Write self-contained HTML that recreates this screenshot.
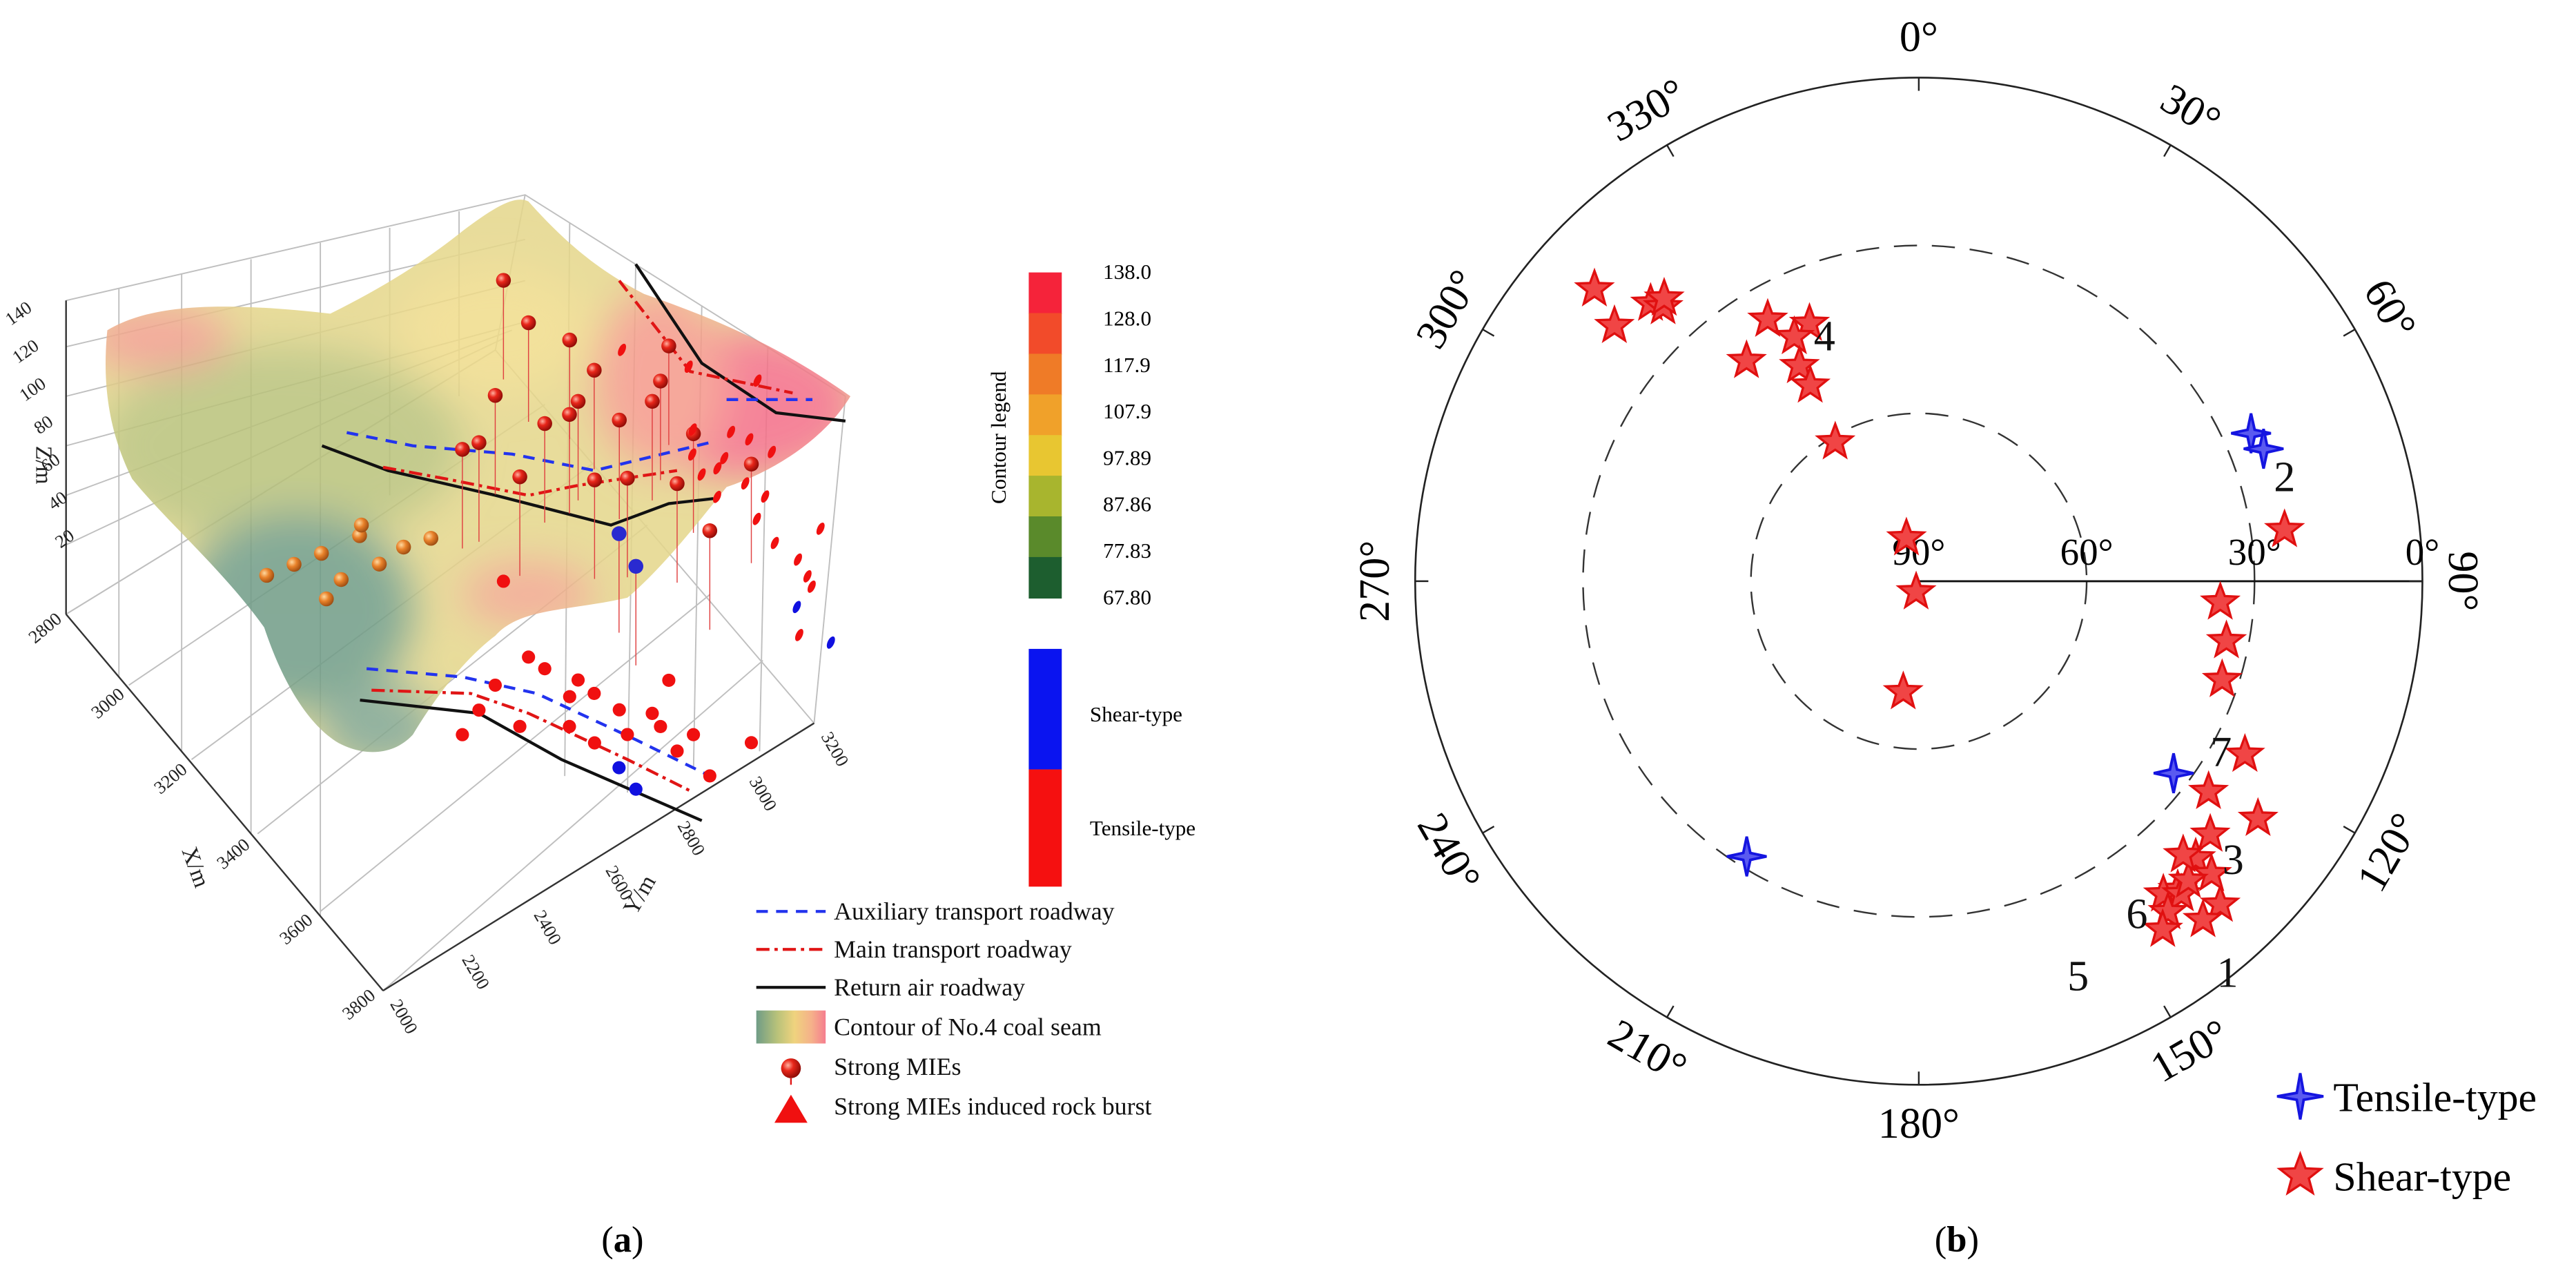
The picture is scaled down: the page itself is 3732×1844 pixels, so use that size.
<!DOCTYPE html>
<html><head><meta charset="utf-8"><style>
html,body{margin:0;padding:0;background:#fff;}
svg{display:block;}
text{font-family:"Liberation Serif",serif;}
</style></head><body>
<svg id="fig" width="3732" height="1844" viewBox="0 0 1560 771" preserveAspectRatio="none" xmlns="http://www.w3.org/2000/svg">
<defs>
<clipPath id="surfClip"><path d="M65,200 C90,185 130,182 200,190 C230,175 255,160 280,140 C300,125 312,118 320,122 C345,150 365,165 390,178 C430,192 470,208 515,240 C500,265 470,285 440,295 C420,320 400,345 380,362 C345,370 315,368 300,385 C280,400 262,425 250,445 C238,458 220,458 205,450 C185,438 170,410 160,380 C135,345 100,315 80,290 C65,260 62,230 65,200 Z"/></clipPath>
<filter id="blur" x="-50%" y="-50%" width="200%" height="200%"><feGaussianBlur stdDeviation="12"/></filter>
<linearGradient id="contGrad" x1="0" x2="1" y1="0" y2="0">
<stop offset="0" stop-color="#6f9c86"/><stop offset="0.3" stop-color="#b8c27a"/><stop offset="0.55" stop-color="#efd37e"/><stop offset="0.8" stop-color="#f5b08a"/><stop offset="1" stop-color="#f57d8e"/></linearGradient>
<radialGradient id="sph" cx="0.35" cy="0.35" r="0.7"><stop offset="0" stop-color="#ffb0a0"/><stop offset="0.4" stop-color="#e8261a"/><stop offset="1" stop-color="#8a0a05"/></radialGradient>
<radialGradient id="sphO" cx="0.35" cy="0.35" r="0.7"><stop offset="0" stop-color="#ffd9a0"/><stop offset="0.45" stop-color="#e9822a"/><stop offset="1" stop-color="#9a4a10"/></radialGradient>
</defs>

<g id="panelA">
<g id="box" stroke="#bfbfbf" stroke-width="0.8" fill="none">
<path d="M40,182 L318,118 L512,240"/>
<path d="M40,182 L40,372 L232,600 L493,438 L512,240"/>
<path d="M318,118 L300,212 M40,372 L300,212 L493,438"/>
<path d="M72,175 L72,410 M110,166 L110,455 M152,157 L152,505 M194,147 L194,555 M236,138 L236,300 M278,128 L278,240"/>
<path d="M345,135 L342,470 M385,160 L380,480 M425,185 L420,465 M465,210 L460,455"/>
<path d="M40,372 L300,212 M78,415 L330,245 M116,460 L360,280 M156,505 L392,318 M194,552 L430,360 M232,600 L462,400"/>
<path d="M40,210 L318,145 M40,240 L318,170 M40,270 L318,195 M40,300 L310,200 M40,330 L305,205"/>
</g>
<g id="boxAxes" stroke="#333" stroke-width="1" fill="none">
<path d="M40,182 L40,372"/>
<path d="M40,372 L232,600"/>
<path d="M232,600 L493,438"/>
</g>
<g id="surface" clip-path="url(#surfClip)" opacity="0.85">
<rect x="40" y="110" width="480" height="360" fill="#e4d68a"/>
<g filter="url(#blur)">
<ellipse cx="170" cy="270" rx="110" ry="60" fill="#b9c27a"/>
<ellipse cx="180" cy="370" rx="70" ry="60" fill="#6f9c86"/>
<ellipse cx="230" cy="440" rx="35" ry="25" fill="#80a590"/>
<ellipse cx="95" cy="205" rx="45" ry="20" fill="#f29c8c"/>
<ellipse cx="450" cy="245" rx="70" ry="45" fill="#f46e88"/>
<ellipse cx="400" cy="230" rx="40" ry="55" fill="#f59a8a"/>
<ellipse cx="300" cy="200" rx="60" ry="40" fill="#f0dc8a"/>
<ellipse cx="320" cy="360" rx="40" ry="20" fill="#f2a58c"/>
</g>
</g>
<g id="roadways" fill="none" stroke-width="1.8">
<polyline points="195,270 235,285 300,300 370,318 405,305 432,302" stroke="#111"/>
<polyline points="210,262 250,270 310,275 360,285 430,268" stroke="#2233ee" stroke-dasharray="7,5"/>
<polyline points="232,283 270,290 320,300 350,294 410,285" stroke="#e01515" stroke-dasharray="8,3,2,3"/>
<polyline points="218,424 290,432 340,460 425,497" stroke="#111"/>
<polyline points="222,405 280,410 325,420 385,448 430,470" stroke="#2233ee" stroke-dasharray="7,5"/>
<polyline points="225,418 285,420 320,432 380,460 420,480" stroke="#e01515" stroke-dasharray="8,3,2,3"/>
<polyline points="385,160 425,220 470,250 512,255" stroke="#111"/>
<polyline points="375,170 418,225 480,238" stroke="#e01515" stroke-dasharray="8,3,2,3"/>
<polyline points="440,242 492,242" stroke="#2233ee" stroke-dasharray="7,5"/>
</g>
<g id="events"></g>
<g id="axisLabels" font-size="11" fill="#222"></g>
</g>

<g id="colorbar"></g>
<text x="0" y="0" font-size="13" transform="translate(609,265) rotate(-90)" text-anchor="middle">Contour legend</text>
<g>
<rect x="623" y="393" width="20" height="73" fill="#0a14f0"/>
<rect x="623" y="466" width="20" height="71" fill="#f51010"/>
<text x="660" y="437" font-size="13">Shear-type</text>
<text x="660" y="506" font-size="13">Tensile-type</text>
</g>

<g id="legendA" font-size="15" fill="#111">
<g><line x1="458" y1="552" x2="500" y2="552" stroke="#2233ee" stroke-width="1.8" stroke-dasharray="7,5"/><text x="505" y="557">Auxiliary transport roadway</text></g>
<g><line x1="458" y1="575" x2="500" y2="575" stroke="#e01515" stroke-width="1.8" stroke-dasharray="8,3,2,3"/><text x="505" y="580">Main transport roadway</text></g>
<g><line x1="458" y1="598" x2="500" y2="598" stroke="#111" stroke-width="1.8"/><text x="505" y="603">Return air roadway</text></g>
<g><rect x="458" y="612" width="42" height="20" fill="url(#contGrad)"/><text x="505" y="627">Contour of No.4 coal seam</text></g>
<g><circle cx="479" cy="647" r="6" fill="url(#sph)"/><line x1="479" y1="653" x2="479" y2="657" stroke="#e01515"/><text x="505" y="651">Strong MIEs</text></g>
<g><polygon points="479,663 469,680 489,680" fill="#f01010"/><text x="505" y="675">Strong MIEs induced rock burst</text></g>
</g>
<text x="377" y="758" font-size="22" text-anchor="middle">(<tspan font-weight="bold">a</tspan>)</text>

<g id="panelB"></g>
<text x="1185" y="758" font-size="22" text-anchor="middle">(<tspan font-weight="bold">b</tspan>)</text>
</svg>

<script>
// ---------- Panel A data ----------
const evX = [3214,3374,3412,3488,3468,3509,3565,3617,3607,3639,3700,3689,3779,3766,3666,3722,3540,3387,3413,3486,3438,3567,3596];
const evY = [2847,2777,2789,2792,2833,2842,2863,2840,2918,2913,2906,2961,2928,3055,2774,2772,2746,2673,2605,2655,2537,2999,2767];
const evZ = [95,110,70,120,85,105,90,75,100,115,80,95,70,85,65,60,100,90,80,72,88,110,78];
const evType = ['t','t','t','t','t','t','t','t','t','t','t','t','t','t','s','s','t','t','t','t','t','t','t'];
const surfX = [3230,3260,3300,3290,3330,3350,3200,3380,3250,3310];
const surfY = [2250,2300,2320,2380,2400,2450,2200,2500,2420,2270];
const surfZ = [70,75,68,80,72,78,65,82,74,66];
const cbLabels = ['138.0','128.0','117.9','107.9','97.89','87.86','77.83','67.80'];
const cbColors = ['#f5233a','#f24b2a','#ef7b27','#f0a12a','#e8c631','#a8b52e','#5a8a2b','#1d5e2f'];
const xTicks = [2800,3000,3200,3400,3600,3800];
const yTicks = [2000,2200,2400,2600,2800,3000,3200];
const zTicks = [20,40,60,80,100,120,140];

const NS='http://www.w3.org/2000/svg';
function mk(tag, attrs, parent){const e=document.createElementNS(NS,tag);for(const k in attrs)e.setAttribute(k,attrs[k]);parent.appendChild(e);return e;}
function proj(X,Y,Z){const u=(X-2800)/1000, v=(Y-2000)/1200;return [42+190*u+261*v, 372+228*u-162*v-1.35*Z];}

const ev=document.getElementById('events');
for(let i=0;i<evX.length;i++){
  const f=proj(evX[i],evY[i],0), t=proj(evX[i],evY[i],evZ[i]+40), w=proj(evX[i],3200,evZ[i]*1.3-55);
  const col = evType[i]==='s' ? '#1010e0' : '#f01010';
  const fl=mk('ellipse',{cx:f[0],cy:f[1],rx:4,ry:4,fill:col},ev);
  
  
  const ln=mk('line',{x1:t[0],y1:t[1],x2:t[0],y2:t[1]+60,stroke:'#e04040','stroke-width':0.6},ev);
  
  
  const wx=w[0]+(i%4)*10-5;
  const wl=mk('ellipse',{cx:wx,cy:w[1],rx:2,ry:4,fill:col,transform:'rotate(25 '+wx+' '+w[1]+')'},ev);
  
  
  const sp=mk('circle',{cx:t[0],cy:t[1],r:4.5,fill:evType[i]==='s'?'#2a2ad0':'url(#sph)'},ev);
  
  
}
for(let i=0;i<surfX.length;i++){
  const p=proj(surfX[i],surfY[i],surfZ[i]);
  const s=mk('circle',{cx:p[0],cy:p[1],r:4.5,fill:'url(#sphO)'},ev);
  
  
}
const al=document.getElementById('axisLabels');
xTicks.forEach(x=>{const p=proj(x,2000,0);const t=mk('text',{x:p[0]-4,y:p[1]+4,'text-anchor':'end',transform:'rotate(-40 '+(p[0]-4)+' '+(p[1]+4)+')'},al);t.textContent=x;
  });
yTicks.forEach(y=>{const p=proj(3800,y,0);const t=mk('text',{x:p[0]+4,y:p[1]+8,transform:'rotate(60 '+(p[0]+4)+' '+(p[1]+8)+')'},al);t.textContent=y;
  });
zTicks.forEach(z=>{const yy=345-z*1.15;const xx=50-(z/140)*30;const t=mk('text',{x:xx,y:yy+4,'text-anchor':'end',transform:'rotate(-35 '+xx+' '+(yy+4)+')'},al);t.textContent=z;
  });
[['Z/m',22,270,90],['X/m',110,515,70],['Y/m',385,555,-60]].forEach(a=>{const t=mk('text',{x:a[1],y:a[2],'font-size':14,transform:'rotate('+a[3]+' '+a[1]+' '+a[2]+')'},al);t.textContent=a[0];
  });

const cb=document.getElementById('colorbar');
const cbTop=165, cbH=197, seg=cbH/cbColors.length;
cbColors.forEach((c,i)=>{const r=mk('rect',{x:623,y:cbTop+i*seg,width:20,height:seg+0.5,fill:c},cb);
  });
cbLabels.forEach((l,i)=>{const t=mk('text',{x:668,y:cbTop+i*(cbH/(cbLabels.length-1))+4,'font-size':13},cb);t.textContent=l;
  });

// ---------- Panel B data ----------
const shearAz = [312,310,316,317,318,330,337,333,322,331,331,329,344,194,188,82,94,101,108,118,126,125,131,135,140,137,140,135,142,140,143,138,145,136];
const shearDip= [12,19,21,23,22,36,40,41,40,46,50,61,82,88,70,24,36,34,33,24,26,16,21,20,18,11,11,16,19,17,16,18,14,22];
const tensAz  = [66,69,127,212];
const tensDip = [25,24,33,32];
const ringDips = [60,30];
const outerLabels = ['0°','30°','60°','90°','120°','150°','180°','210°','240°','270°','300°','330°'];
const innerLabels = ['90°','60°','30°','0°'];
const clusterIds = ['1','2','3','4','5','6','7'];
const clusterAz = [141.7,74,131.5,339,158,146.7,119.4];
const clusterDip= [1,22,15,43,14,19,28];

const CX=1162, CY=352, R=305;
function rr(dip){return (90-dip)/90*R;}
function pol(az,dip){const a=az*Math.PI/180, r=rr(dip);return [CX+r*Math.sin(a), CY-r*Math.cos(a)];}
const pb=document.getElementById('panelB');
const oc=mk('circle',{cx:CX,cy:CY,r:R,fill:'none',stroke:'#222','stroke-width':1.1},pb);

ringDips.forEach(d=>{const c=mk('circle',{cx:CX,cy:CY,r:rr(d),fill:'none',stroke:'#333','stroke-width':1,'stroke-dasharray':'14,9'},pb);
  });
const rl=mk('line',{x1:CX,y1:CY,x2:CX+R,y2:CY,stroke:'#111','stroke-width':1.2},pb);

for(let a=0;a<360;a+=30){const r1=pol(a,0),rad=a*Math.PI/180;
  const tk=mk('line',{x1:r1[0],y1:r1[1],x2:CX+(R-8)*Math.sin(rad),y2:CY-(R-8)*Math.cos(rad),stroke:'#222','stroke-width':1},pb);
  }
outerLabels.forEach((l,i)=>{const a=i*30,rad=a*Math.PI/180,r=R+24;
  const x=CX+r*Math.sin(rad), y=CY-r*Math.cos(rad);
  let rot=a; if(a>90&&a<270) rot=a-180;
  const t=mk('text',{x:x,y:y+8,'font-size':26,'text-anchor':'middle',transform:'rotate('+rot+' '+x+' '+y+')'},pb);t.textContent=l;
  });
innerLabels.forEach((l,i)=>{const x=CX+i*R/3, y=CY-10;
  const t=mk('text',{x:x,y:y,'font-size':23,'text-anchor':'middle'},pb);t.textContent=l;
  });
function starPath(x,y,n,ro,ri){let d='';for(let k=0;k<2*n;k++){const r=k%2?ri:ro,a=Math.PI*k/n-Math.PI/2;d+=(k?'L':'M')+(x+r*Math.cos(a)).toFixed(1)+','+(y+r*Math.sin(a)).toFixed(1);}return d+'Z';}
shearAz.forEach((az,i)=>{const p=pol(az,shearDip[i]);
  const s=mk('path',{d:starPath(p[0],p[1],5,11,4.6),fill:'#f04545',stroke:'#e01010','stroke-width':1.4},pb);
  });
tensAz.forEach((az,i)=>{const p=pol(az,tensDip[i]);
  const s=mk('path',{d:starPath(p[0],p[1],4,12,3),fill:'#5a5af0',stroke:'#1515e0','stroke-width':1.6},pb);
  });
clusterIds.forEach((l,i)=>{const p=pol(clusterAz[i],clusterDip[i]);
  const t=mk('text',{x:p[0],y:p[1]+9,'font-size':26,'text-anchor':'middle',fill:'#111'},pb);t.textContent=l;
  });
const lg=mk('g',{},pb);


mk('path',{d:starPath(1393,664,4,14,3),fill:'#5a5af0',stroke:'#1515e0','stroke-width':1.6},lg);
const t1=mk('text',{x:1413,y:673,'font-size':25},lg);t1.textContent='Tensile-type';

mk('path',{d:starPath(1393,712,5,13,5.5),fill:'#f04545',stroke:'#e01010','stroke-width':1.4},lg);
const t2=mk('text',{x:1413,y:721,'font-size':25},lg);t2.textContent='Shear-type';

</script>
</body></html>
